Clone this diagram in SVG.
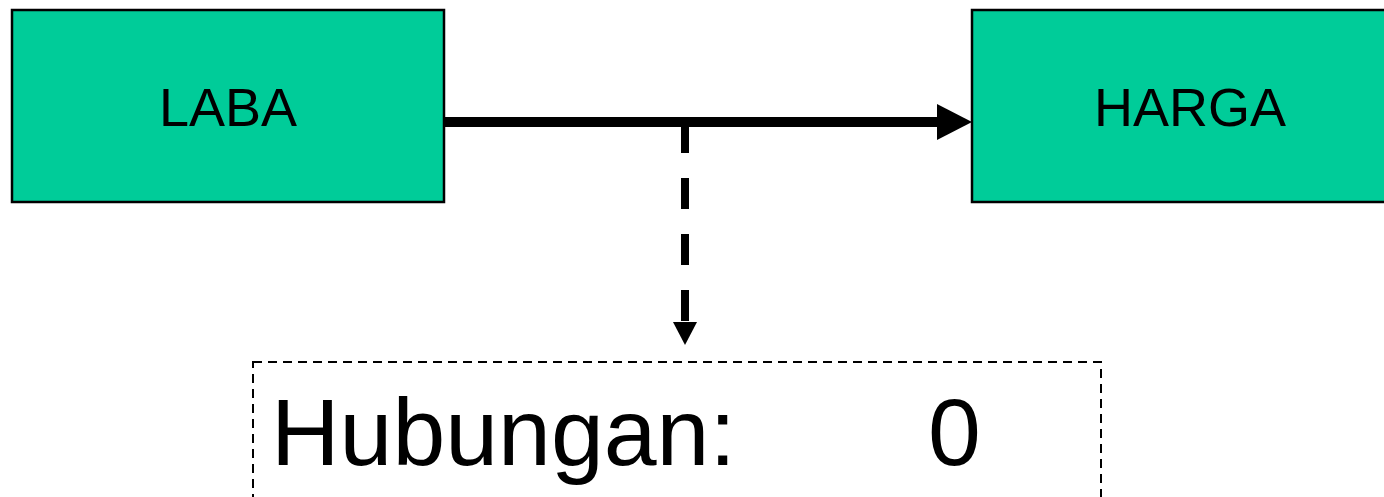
<svg xmlns="http://www.w3.org/2000/svg" width="1384" height="497" viewBox="0 0 1384 497">
<style>
.box{fill:#00CC99;stroke:#000;stroke-width:2.5}
.lbl{font-family:"Liberation Sans",Arial,sans-serif;font-size:54px;fill:#000;text-anchor:middle}
.big{font-family:"Liberation Sans",Arial,sans-serif;font-size:95px;fill:#000}
</style>
<defs>
<marker id="ahBig" markerUnits="userSpaceOnUse" markerWidth="36" markerHeight="36" refX="0" refY="18" orient="auto">
<polygon points="0,0 35,18 0,36" fill="#000"/>
</marker>
<marker id="ahSmall" markerUnits="userSpaceOnUse" markerWidth="24" markerHeight="24" refX="0" refY="12" orient="auto">
<polygon points="0,0 23,12 0,24" fill="#000"/>
</marker>
</defs>
<rect width="1384" height="497" fill="#fff"/>
<g id="laba">
<rect class="box" x="12" y="10" width="432" height="192"/>
<text class="lbl" x="228" y="126">LABA</text>
</g>
<g id="harga">
<rect class="box" x="972" y="10" width="436" height="192"/>
<text class="lbl" x="1190" y="126">HARGA</text>
</g>
<g id="connectors">
<line x1="444" y1="122" x2="937" y2="122" stroke="#000" stroke-width="10" marker-end="url(#ahBig)"/>
<line x1="685" y1="122" x2="685" y2="322" stroke="#000" stroke-width="8" stroke-dasharray="31 25" marker-end="url(#ahSmall)"/>
</g>
<g id="hubungan">
<rect x="253" y="362" width="848" height="160" fill="none" stroke="#000" stroke-width="2" stroke-dasharray="9 6"/>
<text class="big" x="271" y="465">Hubungan:</text>
<text class="big" x="928" y="465">0</text>
</g>
</svg>
